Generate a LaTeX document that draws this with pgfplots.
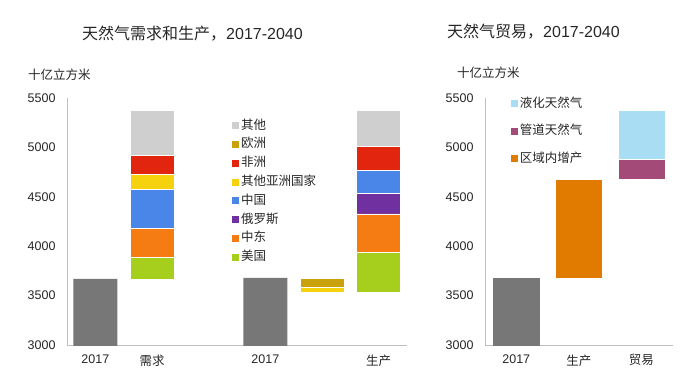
\documentclass[border=0pt]{standalone}
\usepackage{fontspec}
\setmainfont{Liberation Sans}
\newfontfamily\cjk{Noto Sans CJK SC}
\usepackage{pgfplots}
\usepackage{pgfplotstable}
\pgfplotsset{compat=1.18}

\definecolor{txt}{HTML}{262626}
\definecolor{axisgray}{HTML}{BFBFBF}
\definecolor{bgray}{HTML}{777777}
\definecolor{cot}{HTML}{CFCFCF}
\definecolor{ceu}{HTML}{C9A10C}
\definecolor{caf}{HTML}{E2250E}
\definecolor{coa}{HTML}{F6D10E}
\definecolor{ccn}{HTML}{4A86E8}
\definecolor{cru}{HTML}{7030A0}
\definecolor{cme}{HTML}{F57C12}
\definecolor{cus}{HTML}{A6CE1C}
\definecolor{clng}{HTML}{A8DDF3}
\definecolor{cpipe}{HTML}{A34A78}
\definecolor{creg}{HTML}{E07B00}

% left panel: x base gray us me ru cn oa eu af ot
\pgfplotstableread{
x base gray us me ru cn oa eu af ot
0 0    3670 0   0   0   0   0   0  0   0
1 3670 0    220 290 0   395 149 0  192 458
3 0    3680 0   0   0   0   0   0  0   0
4 3533 0    0   0   0   0   51  96 0   0
5 3533 0    401 392 215 223 0   0  243 371
}\leftdata

% right panel: x base gray reg pipe lng
\pgfplotstableread{
x base gray reg pipe lng
0 0    3680 0    0   0
1 3680 0    1000 0   0
2 4680 0    0    205 493
}\rightdata

\pgfplotsset{
  common/.style={
    scale only axis, ybar stacked,
    ymin=3000, ymax=5500, ytick={3000,3500,...,5500},
    axis x line*=bottom, axis y line*=left,
    axis line style={draw=axisgray, line width=0.8pt},
    major tick length=0pt,
    tick label style={font=\fontsize{12.5}{14}\selectfont, text=txt},
    /pgf/number format/assume math mode=true,
    /pgf/number format/1000 sep={},
    yticklabel style={xshift=-8pt},
    xticklabel style={yshift=-6pt},
    xtick=data,
    legend cell align=left,
    legend image code/.code={\path[##1, draw=none] (0pt,-3.5pt) rectangle (7pt,3.5pt);},
  },
  seg/.style={fill=#1, draw=white, line width=0.5pt, forget plot},
}

\begin{document}
\begin{tikzpicture}[x=1pt,y=1pt]
\useasboundingbox (0,0) rectangle (690,-389);

% left axis
\begin{axis}[common,
  at={(67pt,-345pt)}, anchor=south west,
  width=340pt, height=247pt,
  xmin=-0.5, xmax=5.5, bar width=44pt,
  xtick={0,1,3,5},
  xticklabels={2017,{\cjk 需求},2017,{\cjk 生产}},
  legend style={at={(0.485,0.911)}, anchor=north west, draw=none, fill=none,
    font=\cjk\fontsize{12.5}{14}\selectfont, text=txt,
    row sep=7.8pt, inner sep=0pt,
    nodes={inner sep=0pt, text height=9pt, text depth=2pt},
    /tikz/every odd column/.append style={column sep=2pt}},
]
\addplot[draw=none, fill=none, forget plot] table[x=x,y=base]{\leftdata};
\addplot[fill=bgray, draw=none, forget plot] table[x=x,y=gray]{\leftdata};
\addplot[seg=cus] table[x=x,y=us]{\leftdata};
\addplot[seg=cme] table[x=x,y=me]{\leftdata};
\addplot[seg=cru] table[x=x,y=ru]{\leftdata};
\addplot[seg=ccn] table[x=x,y=cn]{\leftdata};
\addplot[seg=coa] table[x=x,y=oa]{\leftdata};
\addplot[seg=ceu] table[x=x,y=eu]{\leftdata};
\addplot[seg=caf] table[x=x,y=af]{\leftdata};
\addplot[seg=cot] table[x=x,y=ot]{\leftdata};
\addlegendimage{fill=cot}\addlegendentry{其他}
\addlegendimage{fill=ceu}\addlegendentry{欧洲}
\addlegendimage{fill=caf}\addlegendentry{非洲}
\addlegendimage{fill=coa}\addlegendentry{其他亚洲国家}
\addlegendimage{fill=ccn}\addlegendentry{中国}
\addlegendimage{fill=cru}\addlegendentry{俄罗斯}
\addlegendimage{fill=cme}\addlegendentry{中东}
\addlegendimage{fill=cus}\addlegendentry{美国}
\end{axis}

% right axis
\begin{axis}[common,
  at={(485pt,-345pt)}, anchor=south west,
  width=187.5pt, height=247pt,
  xmin=-0.5, xmax=2.5, bar width=47pt,
  xtick={0,1,2},
  xticklabels={2017,{\cjk 生产},{\cjk 贸易}},
  legend style={at={(0.137,1.0)}, anchor=north west, draw=none, fill=none,
    font=\cjk\fontsize{12.5}{14}\selectfont, text=txt,
    row sep=16.5pt, inner sep=0pt,
    nodes={inner sep=0pt, text height=9pt, text depth=2pt},
    /tikz/every odd column/.append style={column sep=2pt}},
]
\addplot[draw=none, fill=none, forget plot] table[x=x,y=base]{\rightdata};
\addplot[fill=bgray, draw=none, forget plot] table[x=x,y=gray]{\rightdata};
\addplot[seg=creg] table[x=x,y=reg]{\rightdata};
\addplot[seg=cpipe] table[x=x,y=pipe]{\rightdata};
\addplot[seg=clng] table[x=x,y=lng]{\rightdata};
\addlegendimage{fill=clng}\addlegendentry{液化天然气}
\addlegendimage{fill=cpipe}\addlegendentry{管道天然气}
\addlegendimage{fill=creg}\addlegendentry{区域内增产}
\end{axis}

% titles and unit labels
\node[text=txt, font=\fontsize{16}{18}\selectfont] at (192.5,-34) {{\cjk 天然气需求和生产，}2017-2040};
\node[text=txt, font=\fontsize{16}{18}\selectfont] at (533.5,-32) {{\cjk 天然气贸易，}2017-2040};
\node[text=txt, anchor=west, inner sep=0pt, font=\cjk\fontsize{12.5}{14}\selectfont] at (28,-75) {十亿立方米};
\node[text=txt, anchor=west, inner sep=0pt, font=\cjk\fontsize{12.5}{14}\selectfont] at (457,-73) {十亿立方米};
\end{tikzpicture}
\end{document}
